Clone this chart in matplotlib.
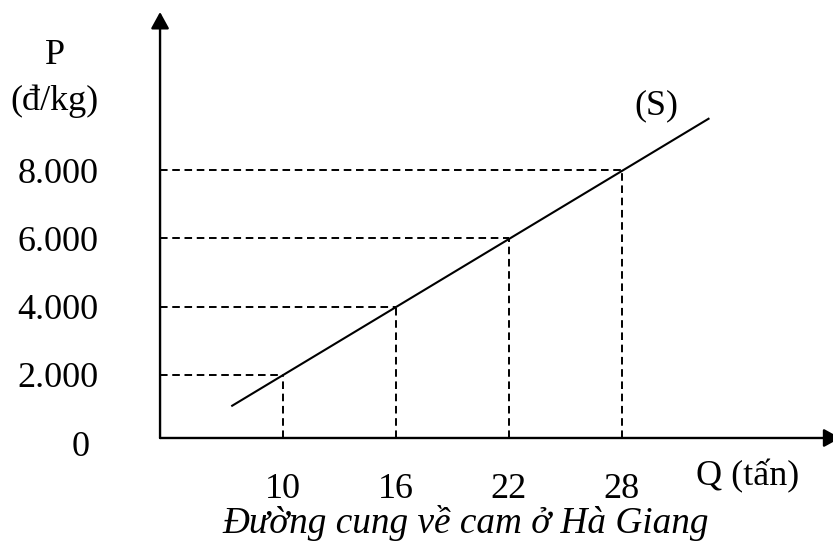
import matplotlib.pyplot as plt
from matplotlib import transforms

# Supply of oranges in Ha Giang: quantity (tấn) vs price (đ/kg)
quantity = [10, 16, 22, 28]
price = [2000, 4000, 6000, 8000]
q_labels = ["10", "16", "22", "28"]
p_ticks = [0, 2000, 4000, 6000, 8000]
p_labels = ["0", "2.000", "4.000", "6.000", "8.000"]
# ends of the drawn supply line (S)
supply_q = [7.3, 32.6]
supply_p = [1100, 9500]

W, H = 833, 544
plt.rcParams['font.family'] = ['Liberation Serif', 'DejaVu Serif']
FS = 26

fig = plt.figure(figsize=(W / 100, H / 100), dpi=100)
ax = fig.add_axes([0, 0, 1, 1])
ax.set_xlim(-5.03, 39.21)
ax.set_ylim(-2947, 12976)
ax.axis('off')


def px(x, y):
    # pixel position (from top-left) -> figure fraction
    return x / W, 1 - y / H


q0, p0 = 3.47, 156  # where the two axes meet

# axes with arrow heads
arrow = dict(arrowstyle='-|>,head_length=1.0,head_width=0.55', mutation_scale=10,
             lw=1.7, color='black', shrinkA=0, shrinkB=0)
ax.annotate('', xy=(39.6, p0), xytext=(q0, p0), arrowprops=arrow, annotation_clip=False)
ax.annotate('', xy=(q0, 12625), xytext=(q0, p0), arrowprops=arrow, annotation_clip=False)

# dashed guides from each point back to the axes
dash = (0, (3.9, 2.4))
for q, p in zip(quantity, price):
    ax.plot([q0, q], [p, p], color='black', lw=1.4, ls=dash)
    ax.plot([q, q], [p0, p], color='black', lw=1.4, ls=dash)

# supply curve
ax.plot(supply_q, supply_p, color='black', lw=1.5)

# tick labels
x_blend = transforms.blended_transform_factory(ax.transData, fig.transFigure)
y_blend = transforms.blended_transform_factory(fig.transFigure, ax.transData)
for q, lab in zip(quantity, q_labels):
    ax.text(q, px(0, 485)[1], lab, transform=x_blend, ha='center', va='center_baseline', fontsize=FS)
label_x = [81, 58, 58, 58, 58]
for p, lab, lx in zip(p_ticks, p_labels, label_x):
    ax.text(px(lx, 0)[0], p, lab, transform=y_blend, ha='center', va='center_baseline', fontsize=FS)

# axis titles and captions
fig.text(*px(55, 52), "P", ha='center', va='center_baseline', fontsize=FS)
fig.text(*px(55, 97), "(đ/kg)", ha='center', va='center_baseline', fontsize=FS)
fig.text(*px(748, 472), "Q (tấn)", ha='center', va='center_baseline', fontsize=FS)
fig.text(*px(656, 102), "(S)", ha='center', va='center_baseline', fontsize=FS)
fig.text(*px(466, 519), "Đường cung về cam ở Hà Giang", ha='center', va='center_baseline',
         fontsize=26.8, style='italic')

fig.savefig('out.png', dpi=100, facecolor='white')
